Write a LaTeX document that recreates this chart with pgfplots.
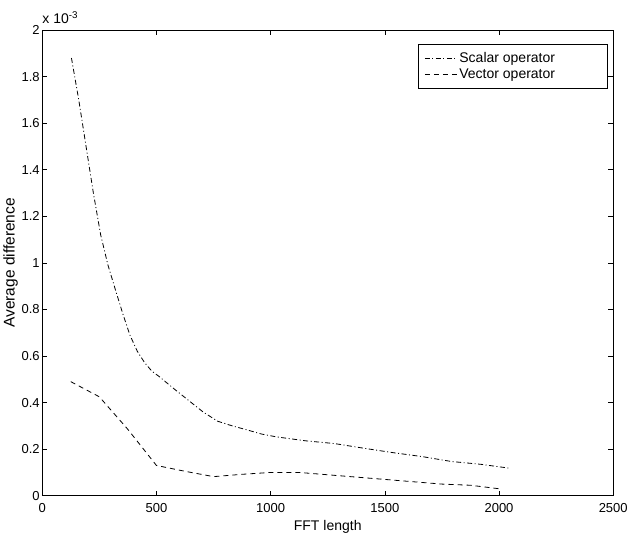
\documentclass[border=0pt]{standalone}
\usepackage{pgfplots}
\pgfplotsset{compat=1.18}
\usepackage{fontspec}
\setmainfont{Liberation Sans}
\begin{document}
\begin{tikzpicture}
\begin{axis}[
  width=569bp, height=464bp, scale only axis,
  xmin=0, xmax=2500, ymin=0, ymax=2,
  xtick={0,500,1000,1500,2000,2500},
  xticklabels={0,500,1000,1500,2000,2500},
  ytick={0,0.2,0.4,0.6,0.8,1,1.2,1.4,1.6,1.8,2},
  yticklabels={0,0.2,0.4,0.6,0.8,1,1.2,1.4,1.6,1.8,2},
  /pgf/number format/assume math mode=true,
  xtick pos=both, ytick pos=both,
  tick align=inside,
  major tick length=5bp,
  axis line style={line width=0.9bp},
  every tick/.style={black, line width=0.6bp},
  tick label style={font=\fontsize{13}{15}\selectfont},
  xticklabel style={yshift=-4bp},
  yticklabel style={xshift=1bp},
  xlabel={FFT length}, ylabel={Average difference},
  xlabel style={font=\fontsize{14}{16}\selectfont, yshift=-1bp},
  ylabel style={font=\fontsize{15.5}{17}\selectfont, yshift=-3bp},
  clip mode=individual,
  legend style={at={(0.990,0.970)}, anchor=north east,
    font=\fontsize{14}{16}\selectfont, draw=black, line width=0.5bp,
    inner sep=6bp, row sep=1bp, cells={anchor=west}},
  legend image code/.code={\draw[#1] (0bp,0bp) -- (32bp,0bp);},
]
\addplot[black, line width=0.8bp, dash pattern=on 5bp off 2.5bp on 1bp off 2.5bp] coordinates {
(128,1.88) (160,1.70) (192,1.50) (224,1.30) (256,1.12) (288,0.99)
(320,0.886) (352,0.784) (384,0.69) (416,0.621) (448,0.572) (480,0.535)
(512,0.512) (576,0.46) (640,0.41) (704,0.36) (768,0.32) (832,0.30)
(896,0.283) (960,0.265) (1024,0.253) (1152,0.236) (1280,0.224) (1408,0.204)
(1536,0.185) (1664,0.168) (1792,0.147) (1920,0.135) (2048,0.118)
};
\addlegendentry{Scalar operator\hspace*{44bp}}
\addplot[black, line width=0.8bp, dash pattern=on 5bp off 4bp] coordinates {
(125,0.49) (250,0.425) (375,0.285) (500,0.13) (625,0.105) (750,0.082)
(875,0.092) (1000,0.10) (1125,0.10) (1250,0.09) (1375,0.08) (1500,0.07)
(1625,0.06) (1750,0.05) (1875,0.045) (2000,0.03)
};
\addlegendentry{Vector operator\hspace*{44bp}}
\node[anchor=south west, inner sep=0pt, font=\fontsize{14}{16}\selectfont] at (rel axis cs:0,1) [yshift=6bp] {x 10\textsuperscript{-3}};
\draw[draw=none] (rel axis cs:0,1) -- ++(0bp,30bp);
\end{axis}
\end{tikzpicture}
\end{document}
